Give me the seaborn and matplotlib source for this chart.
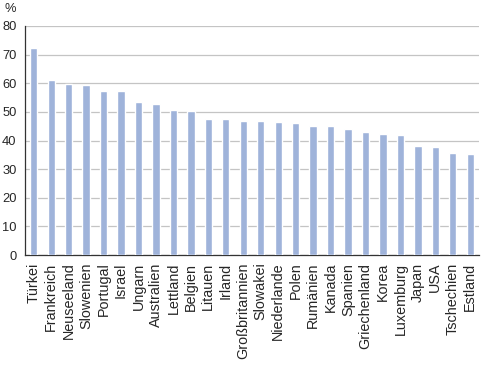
import matplotlib
matplotlib.use("Agg")
import matplotlib.pyplot as plt
import seaborn as sns
import pandas as pd
import numpy as np

laender = ['Türkei', 'Frankreich', 'Neuseeland', 'Slowenien', 'Portugal', 'Israel',
           'Ungarn', 'Australien', 'Lettland', 'Belgien', 'Litauen', 'Irland',
           'Großbritannien', 'Slowakei', 'Niederlande', 'Polen', 'Rumänien', 'Kanada',
           'Spanien', 'Griechenland', 'Korea', 'Luxemburg', 'Japan', 'USA',
           'Tschechien', 'Estland']
werte = [72.4, 61.1, 59.7, 59.4, 57.4, 57.2, 53.6, 52.6, 50.8, 50.4, 47.6, 47.6,
         46.9, 46.9, 46.6, 46.2, 45.1, 45.1, 44.1, 43.1, 42.2, 41.8, 38.1, 37.7,
         35.7, 35.4]
y_ticks = [0, 10, 20, 30, 40, 50, 60, 70, 80]

df = pd.DataFrame({'land': laender, 'wert': werte})

sns.set_style("white")
plt.rcParams['font.family'] = ['Liberation Sans', 'DejaVu Sans']

fig = plt.figure(figsize=(4.85, 3.68), dpi=100)
ax = fig.add_axes([25 / 485, 1 - 255 / 368, 454 / 485, 229 / 368])

sns.barplot(data=df, x='land', y='wert', color='#9fb3da', saturation=1,
            width=0.42, ax=ax, zorder=3)

ax.set_ylim(0, 80)
ax.set_xlim(-0.5, len(laender) - 0.5)
ax.set_yticks(y_ticks)
ax.yaxis.grid(True, color='#c4c4c4', linewidth=0.9, zorder=0)
ax.set_axisbelow(True)
for s in ['top', 'right']:
    ax.spines[s].set_visible(False)
for s in ['left', 'bottom']:
    ax.spines[s].set_color('#333333')
    ax.spines[s].set_linewidth(0.9)

ax.set_xlabel('')
ax.set_ylabel('')
ax.tick_params(axis='y', length=3.3, width=0.8, color='#333333', labelsize=9.3, pad=2.8)
ax.set_xticks(np.arange(len(laender)))
ax.set_xticklabels(laender, rotation=90, fontsize=10.4)
ax.tick_params(axis='x', length=0, pad=5.5)
ax.set_xticks(np.arange(len(laender) + 1) - 0.5, minor=True)
ax.tick_params(axis='x', which='minor', length=4, width=0.8, color='#333333')

fig.text(5 / 485, 1 - 9 / 368, '%', fontsize=9.3, va='center', ha='left')

fig.savefig('out.png', dpi=100)
